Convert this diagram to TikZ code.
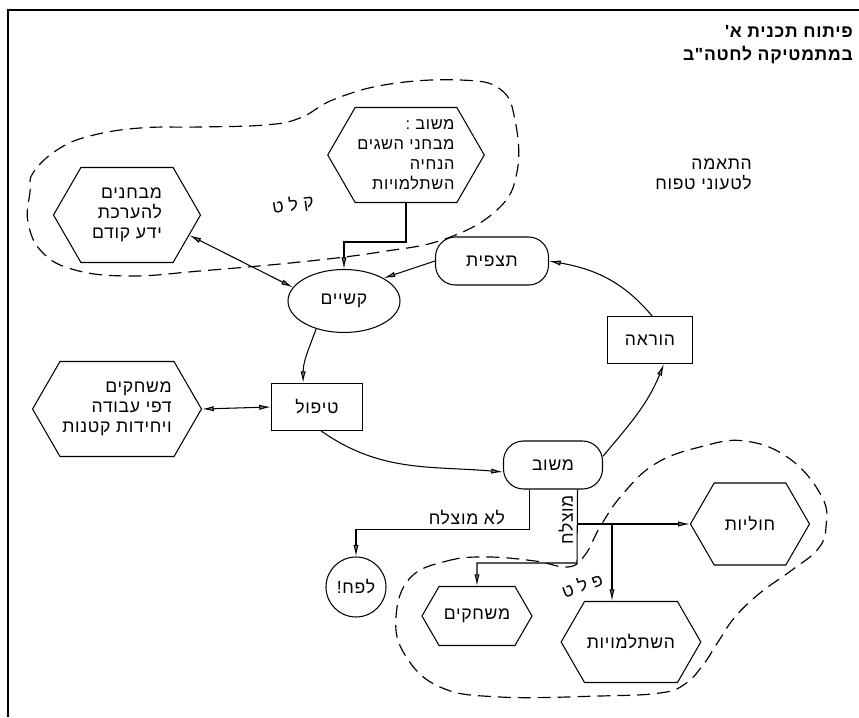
\documentclass[tikz,border=0pt]{standalone}
\usepackage{fontspec}
\usetikzlibrary{arrows.meta,shapes.geometric,shapes.symbols}
\newfontfamily\hebfont[Script=Hebrew,LetterSpace=4]{Liberation Sans}
\newfontfamily\hebwide[Script=Hebrew,LetterSpace=30]{Liberation Sans}
\TeXXeTstate=1
\newcommand\heb[1]{{\hebfont\beginR #1\endR}}

\begin{document}
\begin{tikzpicture}[x=0.03cm, y=0.03cm,
  >={Latex[length=10pt,width=4.5pt,fill=gray]},
  every node/.style={font=\hebfont\fontsize{15}{17}\selectfont},
  box/.style={draw, line width=0.9pt, align=right, inner sep=2pt},
  hexbox/.style={box, signal, signal to=east and west, signal pointer angle=120},
  roundbox/.style={box, rounded corners=0.6cm},
  link/.style={line width=0.9pt},
  zone/.style={line width=1pt, dash pattern=on 11pt off 6pt}]
  \useasboundingbox (0,0) rectangle (859,717);
  % frame
  \draw[line width=1.5pt] (859,707) -- (8,707) -- (8,0);
  % headings
  \node[anchor=north east, align=right, inner sep=0, font=\hebfont\bfseries\fontsize{15}{20}\selectfont] (title) at (853,692)
    {\heb{פיתוח תכנית א'}\\ \heb{במתמטיקה לחטה"ב}};
  \node[anchor=north east, align=right, inner sep=0] (adapt) at (752,558) {\heb{התאמה}\\ \heb{לטעוני טפוח}};

  % cycle
  \node[hexbox, minimum width=4.29cm, minimum height=2.85cm, font=\hebfont\fontsize{14}{17}\selectfont] (feedbackHex) at (406,562)
    {\heb{משוב :}\\ \heb{מבחני השגים}\\ \heb{הנחיה}\\ \heb{השתלמויות}};
  \node[hexbox, minimum width=4.41cm, minimum height=2.85cm] (priorHex) at (127,502)
    {\heb{מבחנים}\\ \heb{להערכת}\\ \heb{ידע קודם}};
  \node[box, ellipse, minimum width=3.36cm, minimum height=1.89cm, inner sep=0] (ksh) at (344,416) {\heb{קשיים}};
  \node[roundbox, minimum width=3.39cm, minimum height=1.44cm] (tazpit) at (492,456) {\heb{תצפית}};
  \node[box, minimum width=2.55cm, minimum height=1.41cm] (teach) at (650,377) {\heb{הוראה}};
  \node[box, minimum width=2.73cm, minimum height=1.41cm] (treat) at (317,310) {\heb{טיפול}};
  \node[hexbox, minimum width=4.95cm, minimum height=2.85cm] (gamesHex) at (117,308)
    {\heb{משחקים}\\ \heb{דפי עבודה}\\ \heb{ויחידות קטנות}};
  \node[roundbox, minimum width=2.97cm, minimum height=1.44cm] (review) at (553,252) {\heb{משוב}};

  % outcomes
  \node[box, circle, minimum size=1.8cm, inner sep=0] (trash) at (356,130) {\heb{לפח!}};
  \node[hexbox, minimum width=3.3cm, minimum height=1.77cm] (playHex) at (477,101) {\heb{משחקים}};
  \node[hexbox, minimum width=3.54cm, minimum height=2.43cm] (trainHex) at (631,75) {\heb{השתלמויות}};
  \node[hexbox, minimum width=3.57cm, minimum height=2.46cm] (unitsHex) at (750,193) {\heb{חוליות}};

  \draw[link,->] (feedbackHex.south) -- ++(0,-39) -| (ksh.north);
  \draw[link,<->] (priorHex.-18) -- (ksh.165);
  \draw[link,->] (tazpit.west) -- (ksh.30);
  \draw[link,->] (ksh.225) to[out=250,in=90] (treat.120);
  \draw[link,<->] (gamesHex.east) -- (treat.west);
  \draw[link,->] (treat.-80) to[out=-35,in=175] (review.188);
  \draw[link,->] (review.10) to[out=50,in=-112] (teach.-60);
  \draw[link,->] (teach.85) to[out=130,in=-10] (tazpit.east);

  \draw[link,->] (review.-134) -- ++(0,-40) -| (trash.north) node[pos=0.18, above] {\heb{לא מוצלח}};
  \coordinate (okCorner) at (577,154);
  \coordinate (okSplit) at (577,193);
  \coordinate (trainSplit) at (612,193);
  \draw[link,->] (review.-45) -- (okCorner) -| (playHex.north);
  \node[rotate=90] (okLbl) at (566,197) {\heb{מוצלח}};
  \draw[link,->] (okSplit) -- (unitsHex.west);
  \draw[link,->] (trainSplit) -- (trainSplit |- trainHex.north);

  % input / output zones
  \draw[zone] plot[smooth cycle, tension=0.7] coordinates {(460,637) (500,628) (515,597) (517,545) (497,507) (445,478) (380,465) (300,455) (200,446) (130,441) (75,447) (42,465) (28,495) (30,525) (33,544) (57,567) (90,581) (140,589) (200,590) (265,592) (300,599) (335,618) (390,633)};
  \node[rotate=8, font=\hebwide\fontsize{15}{17}\selectfont] (inLbl) at (293,512) {\beginR קלט\endR};
  \draw[zone] plot[smooth cycle, tension=0.7] coordinates {(410,139) (447,156) (487,160) (535,156) (568,150) (585,162) (600,190) (622,222) (655,253) (700,270) (745,276) (790,258) (822,220) (826,190) (818,168) (792,147) (760,124) (735,100) (718,75) (703,52) (685,33) (660,24) (600,21) (500,20) (440,30) (405,62) (396,100)};
  \node[rotate=20, font=\hebwide\fontsize{15}{17}\selectfont] (outLbl) at (582,132) {\beginR פלט\endR};
\end{tikzpicture}
\end{document}
